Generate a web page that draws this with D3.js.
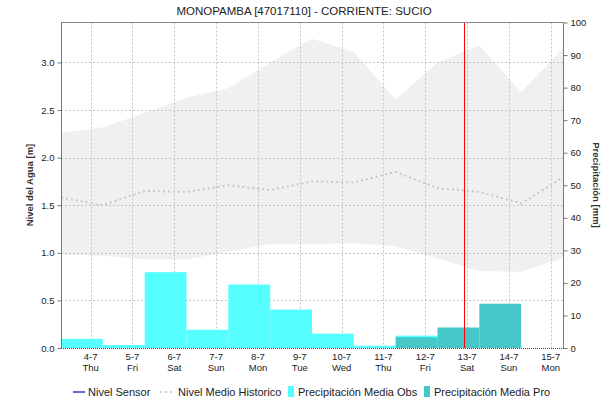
<!DOCTYPE html>
<html><head><meta charset="utf-8">
<script src="https://cdn.jsdelivr.net/npm/d3@7"></script>
<style>body{margin:0;background:#fff}svg{display:block;font-family:"Liberation Sans",Arial,sans-serif}</style>
</head><body>
<svg id="c" width="613" height="401"></svg>
<script>
// ---- data ----
const title = "MONOPAMBA [47017110] - CORRIENTE: SUCIO";
// historical points at 07:00 each day, 3-7 .. 15-7 (2019)
const histDays = ["2019-07-03","2019-07-04","2019-07-05","2019-07-06","2019-07-07","2019-07-08","2019-07-09","2019-07-10","2019-07-11","2019-07-12","2019-07-13","2019-07-14","2019-07-15"];
const histMax = [2.26,2.32,2.47,2.63,2.73,3.00,3.25,3.11,2.61,3.00,3.18,2.69,3.15];
const histMin = [0.98,0.97,0.93,0.93,1.01,1.09,1.09,1.10,1.07,0.94,0.81,0.80,0.94];
const histMedian = [1.58,1.50,1.65,1.64,1.71,1.66,1.75,1.74,1.85,1.68,1.64,1.52,1.79];
// daily precipitation, period starting at 07:00 of each date
const precDays = ["2019-07-03","2019-07-04","2019-07-05","2019-07-06","2019-07-07","2019-07-08","2019-07-09","2019-07-10","2019-07-11","2019-07-12","2019-07-13"];
const precObs = [2.8,0.9,23.3,5.6,19.5,11.8,4.4,0.7,3.8,null,null];
const precPro = [null,null,null,null,null,null,null,null,3.3,6.3,13.6];
const tickDays = ["2019-07-04","2019-07-05","2019-07-06","2019-07-07","2019-07-08","2019-07-09","2019-07-10","2019-07-11","2019-07-12","2019-07-13","2019-07-14","2019-07-15"];
const tickWeekdays = ["Thu","Fri","Sat","Sun","Mon","Tue","Wed","Thu","Fri","Sat","Sun","Mon"];
const nowTime = "2019-07-12T22:00";
const levelTicks = [0,0.5,1.0,1.5,2.0,2.5,3.0];
const precTicks = [0,10,20,30,40,50,60,70,80,90,100];
const legendItems = ["Nivel Sensor","Nivel Medio Historico","Precipitación Media Obs","Precipitación Media Pro"];

// ---- layout ----
const L=61,R=563,T=22.5,B=348;
const svg=d3.select("#c");
const at7=s=>new Date(s+"T07:00");
const at0=s=>new Date(s+"T00:00");
const x=d3.scaleTime().domain([at7("2019-07-03"),at7("2019-07-15")]).range([L,R]);
const yL=d3.scaleLinear().domain([0,3.42]).range([B,T]);
const yR=d3.scaleLinear().domain([0,100]).range([B,T]);

// band
const hist=histDays.map((d,i)=>({t:at7(d),lo:histMin[i],hi:histMax[i],md:histMedian[i]}));
svg.append("path").datum(hist).attr("fill","#f0f0f0")
  .attr("d",d3.area().x(d=>x(d.t)).y0(d=>yL(d.lo)).y1(d=>yL(d.hi)));

// grid
const g=svg.append("g").attr("stroke","#c4c4c4").attr("stroke-dasharray","2,2").attr("stroke-width",1);
levelTicks.filter(v=>v>0).forEach(v=>g.append("line").attr("x1",L).attr("x2",R).attr("y1",Math.round(yL(v))+0.5).attr("y2",Math.round(yL(v))+0.5));
tickDays.forEach(d=>g.append("line").attr("x1",Math.round(x(at0(d)))+0.5).attr("x2",Math.round(x(at0(d)))+0.5).attr("y1",T).attr("y2",B));

// bars
const day=24*3600*1000;
const bars=precDays.map((d,i)=>({t0:at7(d),t1:new Date(+at7(d)+day),o:precObs[i],p:precPro[i]}));
svg.append("g").selectAll("rect").data(bars.filter(b=>b.o!=null)).join("rect")
  .attr("x",b=>x(b.t0)).attr("width",b=>x(b.t1)-x(b.t0)).attr("y",b=>yR(b.o)).attr("height",b=>B-yR(b.o)).attr("fill","#55ffff");
svg.append("g").selectAll("rect").data(bars.filter(b=>b.p!=null)).join("rect")
  .attr("x",b=>x(b.t0)).attr("width",b=>x(b.t1)-x(b.t0)).attr("y",b=>yR(b.p)).attr("height",b=>B-yR(b.p)).attr("fill","#46c8c8");

// median
svg.append("path").datum(hist).attr("fill","none").attr("stroke","#c8c8c8").attr("stroke-width",2).attr("stroke-dasharray","2,3")
  .attr("d",d3.line().x(d=>x(d.t)).y(d=>yL(d.md)));

// now line
const nx=Math.round(x(new Date(nowTime)))+0.5;
svg.append("line").attr("x1",nx).attr("x2",nx).attr("y1",T).attr("y2",B).attr("stroke","#ff0000").attr("stroke-width",1);

// frame
svg.append("line").attr("x1",L).attr("x2",R).attr("y1",T).attr("y2",T).attr("stroke","#888");
svg.append("line").attr("x1",L+0.5).attr("x2",L+0.5).attr("y1",T).attr("y2",B).attr("stroke","#777");
svg.append("line").attr("x1",R+0.5).attr("x2",R+0.5).attr("y1",T).attr("y2",B).attr("stroke","#777");
svg.append("line").attr("x1",L).attr("x2",R+1).attr("y1",B+0.5).attr("y2",B+0.5).attr("stroke","#444").attr("stroke-dasharray","1,1");

// left axis
const la=svg.append("g").attr("transform",`translate(${L+0.5},0)`)
  .call(d3.axisLeft(yL).tickValues(levelTicks).tickFormat(d3.format(".1f")).tickSize(4).tickPadding(3));
la.select(".domain").remove();
la.selectAll("line").attr("stroke","#777");
la.selectAll("text").attr("font-size","9.5px").attr("fill","#222").attr("font-family","Liberation Sans, Arial");
// right axis
const ra=svg.append("g").attr("transform",`translate(${R+0.5},0)`)
  .call(d3.axisRight(yR).tickValues(precTicks).tickSize(4).tickPadding(3));
ra.select(".domain").remove();
ra.selectAll("line").attr("stroke","#777");
ra.selectAll("text").attr("font-size","9.5px").attr("fill","#222").attr("font-family","Liberation Sans, Arial");

// x labels
const xl=svg.append("g").attr("font-size","9.5px").attr("fill","#222").attr("text-anchor","middle");
tickDays.forEach((d,i)=>{
  const dt=at0(d), px=x(dt);
  xl.append("text").attr("x",px).attr("y",360).text(d3.timeFormat("%-d-%-m")(dt));
  xl.append("text").attr("x",px).attr("y",371).text(tickWeekdays[i]);
});

// titles
svg.append("text").attr("x",304).attr("y",15).attr("text-anchor","middle").attr("font-size","11.5px").attr("fill","#222").text(title);
svg.append("text").attr("transform","translate(33,185) rotate(-90)").attr("text-anchor","middle").attr("font-size","9.5px").attr("font-weight","bold").attr("fill","#333").text("Nivel del Agua [m]");
svg.append("text").attr("transform","translate(593,185) rotate(90)").attr("text-anchor","middle").attr("font-size","9.5px").attr("font-weight","bold").attr("fill","#333").text("Precipitación [mm]");

// legend
const lg=svg.append("g").attr("font-size","11px").attr("fill","#222");
const ly=392;
lg.append("line").attr("x1",73).attr("x2",85).attr("y1",ly).attr("y2",ly).attr("stroke","#0000cc").attr("stroke-width",1.2);
lg.append("text").attr("x",88).attr("y",ly+4).text(legendItems[0]);
lg.append("line").attr("x1",160).attr("x2",175).attr("y1",ly).attr("y2",ly).attr("stroke","#c8c8c8").attr("stroke-width",1.5).attr("stroke-dasharray","2,3");
lg.append("text").attr("x",178).attr("y",ly+4).text(legendItems[1]);
lg.append("rect").attr("x",288).attr("y",ly-6).attr("width",6).attr("height",11).attr("fill","#55ffff");
lg.append("text").attr("x",298).attr("y",ly+4).text(legendItems[2]);
lg.append("rect").attr("x",424).attr("y",ly-6).attr("width",6).attr("height",11).attr("fill","#46c8c8");
lg.append("text").attr("x",434).attr("y",ly+4).text(legendItems[3]);
</script>
</body></html>
